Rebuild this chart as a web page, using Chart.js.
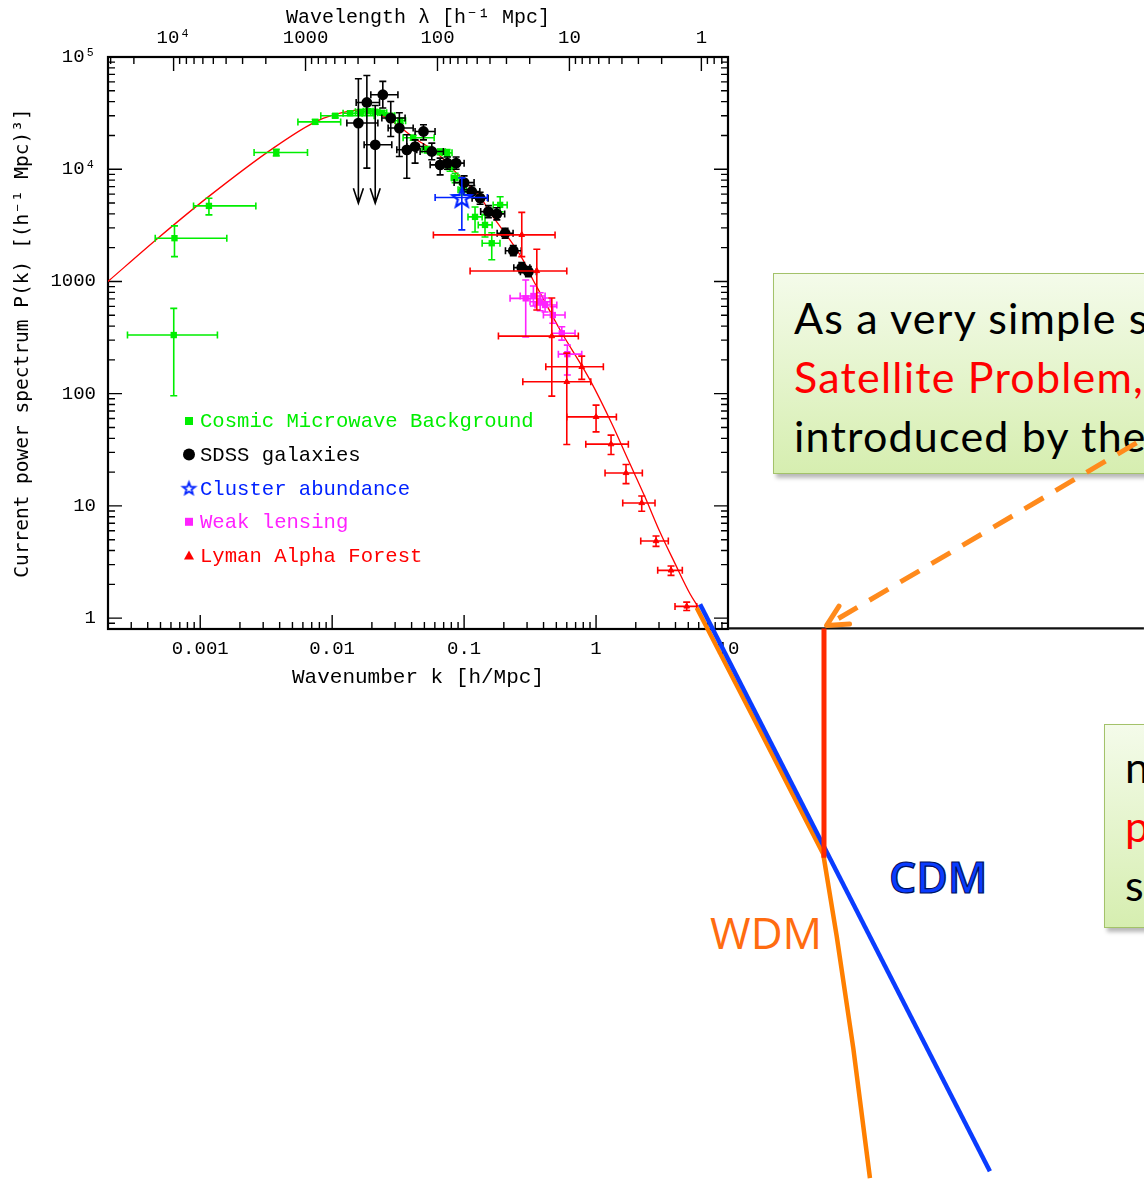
<!DOCTYPE html>
<html>
<head>
<meta charset="utf-8">
<script src="https://cdn.jsdelivr.net/npm/chart.js@4.4.1/dist/chart.umd.min.js"></script>
<style>
body { margin: 0; background: #fff; }
#wrap { position: relative; width: 1144px; height: 1184px; overflow: hidden; }
#c { position: absolute; left: 0; top: 0; }
.box { position: absolute; box-sizing: border-box; border: 1.5px solid #a3c26a;
       background: linear-gradient(#f4fbea, #d6eeb0); box-shadow: 3px 4px 4px rgba(0,0,0,.28);
       font: 43px Lato, sans-serif; letter-spacing: 1.2px; line-height: 59px; white-space: nowrap;
       padding: 14px 0 0 20px; color: #000; }
.red { color: #ff0000; }
#box1 { left: 773px; top: 273px; width: 480px; height: 201px; }
#box2 { left: 1104px; top: 724px; width: 200px; height: 204px; padding-top: 12px; }
.lbl { position: absolute; font-family: 'Open Sans', sans-serif; font-size: 43px; line-height: 1; white-space: nowrap; }
#cdm { left: 889px; top: 855px; color: #0a3cff; font-weight: 600; -webkit-text-stroke: 1.2px #001060; }
#wdm { left: 710px; top: 910px; font-size: 44px; color: #ff6c10; }
</style>
</head>
<body>
<div id="wrap">
  <div class="box" id="box1">As a very simple s<br><span class="red">Satellite Problem,</span><br>introduced by the</div>
  <div class="box" id="box2">n<br><span class="red">p</span><br>s</div>
  <div class="lbl" id="cdm">CDM</div>
  <div class="lbl" id="wdm">WDM</div>
  <canvas id="c" width="1144" height="1184"></canvas>
</div>
<script>
// axis ranges and tick labels
const kMin = 2e-4, kMax = 10;
const pMin = 0.8, pMax = 1e5;
const kTicks = [0.001, 0.01, 0.1, 1, 10];
const kTickLabels = ['0.001', '0.01', '0.1', '1', '10'];
const pTicks = [1, 10, 100, 1000, 1e4, 1e5];
const pTickLabels = ['1', '10', '100', '1000', '10⁴', '10⁵'];
const lamTicks = [1, 10, 100, 1000, 1e4];
const lamTickLabels = ['1', '10', '100', '1000', '10⁴'];

// theory curve
const thK = [2e-4, 4.8e-4, 1.15e-3, 3.6e-3, 7.2e-3, 0.0102, 0.0178, 0.026, 0.0438, 0.0603, 0.0933, 0.132, 0.166, 0.223, 0.280, 0.333, 0.377, 0.534, 0.901, 1.315, 1.757, 2.35, 3.05, 3.97, 5.15, 5.96];
const thP = [1000, 2440, 5670, 15500, 25900, 30500, 33900, 28600, 18300, 14400, 8550, 5670, 3760, 2340, 1550, 1030, 790, 369, 132, 54.2, 25.5, 12.0, 5.85, 3.06, 1.65, 1.25];

// Cosmic Microwave Background
const cmbK = [6.3e-4, 6.38e-4, 1.164e-3, 3.77e-3, 7.43e-3, 0.01054, 0.01368, 0.0163, 0.01875, 0.0212, 0.0239, 0.0275, 0.0328, 0.0411, 0.0525, 0.0658, 0.0743, 0.0783, 0.0855, 0.0966, 0.121, 0.144, 0.162, 0.1875];
const cmbP = [333, 2430, 4710, 14090, 26400, 29950, 31550, 32500, 32850, 32500, 31840, 29950, 27030, 19070, 14900, 14290, 13990, 10500, 8380, 6550, 3760, 3190, 2190, 4810];
const cmbKErr = [[2.81e-4,1.35e-3],[4.56e-4,1.59e-3],[8.9e-4,2.64e-3],[2.56e-3,6.5e-3],[5.5e-3,0.0116],[8.2e-3,0.0208],[0.0121,0.01687],[0.0150,0.0178],[0.0172,0.0204],[0.0196,0.0230],[0.0221,0.0259],[0.0254,0.0298],[0.0300,0.0360],[0.0345,0.0593],[0.0480,0.0575],[0.060,0.072],[0.068,0.081],[0.073,0.084],[0.080,0.092],[0.090,0.104],[0.107,0.137],[0.128,0.163],[0.137,0.187],[0.166,0.212]];
const cmbPErr = [[95.7,576],[1663,3126],[3917,5520],[13160,15040],[25200,27700],[28700,31200],[30300,32900],[31200,33900],[31500,34300],[31200,33900],[30500,33200],[28700,31300],[25600,28500],[18100,20100],[14000,15900],[13500,15100],[13000,15000],[9600,11500],[7600,9200],[5900,7300],[2760,4610],[2490,3920],[1560,2720],[4170,5680]];

// SDSS galaxies
const sdssK = [0.0158, 0.01832, 0.0212, 0.0242, 0.0278, 0.0323, 0.0492, 0.0368, 0.0425, 0.0569, 0.0658, 0.0747, 0.0870, 0.1, 0.1143, 0.1322, 0.1528, 0.177, 0.2046, 0.236, 0.2735, 0.307];
const sdssP = [25780, 39360, 16510, 46100, 28570, 23270, 21680, 14890, 15930, 14380, 10940, 11330, 11330, 7600, 6320, 5520, 4190, 4000, 2690, 1880, 1327, 1222];
const sdssKErr = [[0.01292,0.0222],[0.0152,0.02285],[0.01747,0.0283],[0.01963,0.0315],[0.0238,0.0357],[0.02656,0.0411],[0.0425,0.0602],[0.0309,0.0438],[0.0368,0.0492],[0.0464,0.0697],[0.0553,0.0783],[0.065,0.0859],[0.0757,0.1],[0.084,0.119],[0.0995,0.1315],[0.115,0.152],[0.1335,0.1755],[0.1544,0.203],[0.178,0.235],[0.2058,0.271],[0.238,0.315],[0.267,0.353]];
const sdssPErr = [[4980,64000],[10230,68500],[4980,37000],[35070,60600],[19590,40140],[12970,31840],[18260,24880],[8320,20260],[11330,18260],[12130,17090],[8910,12560],[10000,12840],[10000,12840],[6590,8730],[5590,7150],[4880,6240],[3705,4740],[3540,4530],[2430,2980],[1698,2085],[1197,1470],[1103,1355]];
const sdssLimit = [true, false, true];

// Cluster abundance
const clK = [0.0961];
const clP = [5600];
const clKErr = [[0.0603, 0.150]];
const clPErr = [[2880, 8380]];

// Weak lensing
const wlK = [0.293, 0.335, 0.377, 0.411, 0.470, 0.550, 0.606];
const wlP = [707, 742, 660, 617, 502, 345, 225];
const wlKErr = [[0.223,0.377],[0.266,0.411],[0.316,0.449],[0.345,0.504],[0.399,0.582],[0.462,0.693],[0.518,0.779]];
const wlPErr = [[321,1031],[604,911],[548,794],[534,711],[424,595],[300,395],[146.5,271]];

// Lyman Alpha Forest
const lyaK = [0.2735, 0.3556, 0.462, 0.600, 0.779, 1.0, 1.299, 1.687, 2.219, 2.848, 3.70, 4.864];
const lyaP = [2600, 1240, 326, 127.6, 173.5, 62.1, 35.5, 19.67, 10.62, 4.865, 2.665, 1.272];
const lyaKErr = [[0.0585,0.489],[0.111,0.600],[0.182,0.734],[0.2785,0.912],[0.416,1.136],[0.600,1.426],[0.836,1.757],[1.17,2.243],[1.593,2.798],[2.181,3.529],[2.932,4.506],[3.966,5.79]];
const lyaPErr = [[1663,4125],[556,1937],[95.1,712],[35.3,230],[134,216],[45.7,79.1],[28.7,42.7],[15.8,23.4],[8.96,12.27],[4.36,5.39],[2.404,2.91],[1.171,1.389]];

// slide annotations (extrapolated beyond the frame); listed from the far end so
// that every point is kept when drawn outside the axis range
const cdmK = [966, 6.14];
const cdmP = [1.18e-5, 1.33];
const wdmK = [119.1, 89.0, 66.6, 52.7, 17.48, 5.79];
const wdmP = [1.023e-5, 1.479e-4, 1.475e-3, 0.0079, 0.0996, 1.236];
const cutK = [53.4, 53.4];
const cutP = [0.81, 0.00732];
const extK = [14200, 10];
const extP = [0.81, 0.81];
const arrK = [12480, 55.9];
const arrP = [36.4, 0.861];

const GREEN = '#00ee00', BLUE = '#0022ff', MAGENTA = '#ff22ff', RED = '#ff0000';

const pts = (ks, ps) => ks.map((k, i) => ({ x: k, y: ps[i] }));

function starCanvas(r, color, lw) {
    const s = Math.ceil(2 * r + 2 * lw + 2);
    const c = document.createElement('canvas');
    c.width = c.height = s;
    const g = c.getContext('2d');
    g.strokeStyle = color; g.lineWidth = lw; g.lineJoin = 'miter';
    g.beginPath();
    for (let i = 0; i < 10; i++) {
        const a = -Math.PI / 2 + i * Math.PI / 5;
        const rr = i % 2 ? r * 0.42 : r;
        g.lineTo(s / 2 + rr * Math.cos(a), s / 2 + rr * Math.sin(a) + r * 0.08);
    }
    g.closePath(); g.stroke();
    return c;
}
const bigStar = starCanvas(10, BLUE, 2.2);
const smallStar = starCanvas(6.5, BLUE, 1.8);

/**
 * PLUGINS
 */
const frame = {
    id: 'frame',
    beforeDatasetsDraw(chart) {
        const { ctx, chartArea: a, scales } = chart;
        ctx.save();
        ctx.strokeStyle = '#000';
        ctx.lineWidth = 1.4;
        const eachTick = (min, max, fn) => {
            for (let e = Math.floor(Math.log10(min)); e <= Math.ceil(Math.log10(max)); e++) {
                for (let m = 1; m < 10; m++) {
                    const v = m * Math.pow(10, e);
                    if (v > min * 1.0001 && v < max * 0.9999) fn(v, m === 1 ? 14 : 7);
                }
            }
        };
        ctx.beginPath();
        eachTick(kMin, kMax, (v, len) => {
            const px = scales.x.getPixelForValue(v);
            ctx.moveTo(px, a.bottom); ctx.lineTo(px, a.bottom - len);
        });
        eachTick(2 * Math.PI / kMax, 2 * Math.PI / kMin, (v, len) => {
            const px = scales.x2.getPixelForValue(v);
            ctx.moveTo(px, a.top); ctx.lineTo(px, a.top + len);
        });
        eachTick(pMin, pMax, (v, len) => {
            const py = scales.y.getPixelForValue(v);
            ctx.moveTo(a.left, py); ctx.lineTo(a.left + len, py);
            ctx.moveTo(a.right, py); ctx.lineTo(a.right - len, py);
        });
        ctx.stroke();
        ctx.lineWidth = 2.2;
        ctx.strokeRect(a.left, a.top, a.right - a.left, a.bottom - a.top);
        ctx.restore();
    }
};

const errorBars = {
    id: 'errorBars',
    beforeDatasetDraw(chart, args) {
        const ds = chart.data.datasets[args.index];
        if (!ds.errK) return;
        const { ctx, scales: { x, y } } = chart;
        const cap = 3.5;
        ctx.save();
        ctx.strokeStyle = ds.borderColor;
        ctx.lineWidth = 1.6;
        ds.data.forEach((p, i) => {
            const px = x.getPixelForValue(p.x), py = y.getPixelForValue(p.y);
            const xl = x.getPixelForValue(ds.errK[i][0]), xr = x.getPixelForValue(ds.errK[i][1]);
            const yb = y.getPixelForValue(ds.errP[i][0]), yt = y.getPixelForValue(ds.errP[i][1]);
            ctx.beginPath();
            ctx.moveTo(xl, py); ctx.lineTo(xr, py);
            ctx.moveTo(xl, py - cap); ctx.lineTo(xl, py + cap);
            ctx.moveTo(xr, py - cap); ctx.lineTo(xr, py + cap);
            ctx.moveTo(px, yt); ctx.lineTo(px, yb);
            ctx.moveTo(px - cap, yt); ctx.lineTo(px + cap, yt);
            if (ds.limit && ds.limit[i]) {
                ctx.moveTo(px - 5, yb - 15); ctx.lineTo(px, yb); ctx.lineTo(px + 5, yb - 15);
            } else {
                ctx.moveTo(px - cap, yb); ctx.lineTo(px + cap, yb);
            }
            ctx.stroke();
        });
        ctx.restore();
    }
};

const arrowHead = {
    id: 'arrowHead',
    afterDatasetsDraw(chart) {
        const { ctx } = chart;
        chart.data.datasets.forEach((ds, i) => {
            if (!ds.arrowHead) return;
            const el = chart.getDatasetMeta(i).data;
            const a = el[el.length - 2], b = el[el.length - 1];
            const ang = Math.atan2(a.y - b.y, a.x - b.x);
            ctx.save();
            ctx.strokeStyle = ds.borderColor; ctx.lineWidth = ds.borderWidth;
            ctx.lineCap = 'round'; ctx.lineJoin = 'round';
            ctx.beginPath();
            ctx.moveTo(b.x + 23 * Math.cos(ang - 0.47), b.y + 23 * Math.sin(ang - 0.47));
            ctx.lineTo(b.x, b.y);
            ctx.lineTo(b.x + 23 * Math.cos(ang + 0.47), b.y + 23 * Math.sin(ang + 0.47));
            ctx.stroke();
            ctx.restore();
        });
    }
};

const insideLegend = {
    id: 'insideLegend',
    afterDatasetsDraw(chart, args, opts) {
        const { ctx } = chart;
        const items = chart.data.datasets.filter(d => d.legendRank !== undefined)
            .sort((a, b) => a.legendRank - b.legendRank);
        ctx.save();
        ctx.font = opts.font;
        ctx.textBaseline = 'middle';
        items.forEach((d, i) => {
            const y = opts.y + i * opts.step, x = opts.x;
            ctx.fillStyle = d.borderColor;
            ctx.beginPath();
            if (d.legendMarker === 'square') ctx.rect(x - 4, y - 4, 8, 8);
            else if (d.legendMarker === 'circle') ctx.arc(x, y, 6, 0, Math.PI * 2);
            else if (d.legendMarker === 'triangle') { ctx.moveTo(x, y - 5); ctx.lineTo(x + 5, y + 4); ctx.lineTo(x - 5, y + 4); ctx.closePath(); }
            ctx.fill();
            if (d.legendMarker === 'star') ctx.drawImage(smallStar, x - smallStar.width / 2, y - smallStar.height / 2);
            ctx.fillText(d.label, x + 11, y + 1);
        });
        ctx.restore();
    }
};

/**
 * CHART
 */
Chart.defaults.font.family = "'Liberation Mono', monospace";
Chart.defaults.color = '#000';

const tickFont = { family: "'Liberation Mono', monospace", size: 19 };
const titleFont = { family: "'Liberation Mono', monospace", size: 21 };

const lineSet = (label, ks, ps, color, width, extra) => Object.assign({
    label, data: pts(ks, ps), showLine: true, borderColor: color, backgroundColor: color,
    borderWidth: width, pointRadius: 0, clip: false
}, extra || {});

new Chart(document.getElementById('c'), {
    type: 'scatter',
    data: {
        datasets: [
            lineSet('cutoff', cutK, cutP, '#ff2a00', 5),
            lineSet('CDM', cdmK, cdmP, '#0a3cff', 4.5),
            lineSet('WDM', wdmK, wdmP, '#ff7f00', 4.5),
            lineSet('axis', extK, extP, '#111', 2.4),
            lineSet('arrow', arrK, arrP, '#ff8a1c', 5, { borderDash: [22, 14], arrowHead: true }),
            {
                label: 'Lyman Alpha Forest', data: pts(lyaK, lyaP), errK: lyaKErr, errP: lyaPErr,
                pointStyle: 'triangle', pointRadius: 3.3, borderColor: RED, backgroundColor: RED, borderWidth: 1,
                legendRank: 4, legendMarker: 'triangle'
            },
            {
                label: 'Weak lensing', data: pts(wlK, wlP), errK: wlKErr, errP: wlPErr,
                pointStyle: 'rect', pointRadius: 4.5, borderColor: MAGENTA, backgroundColor: MAGENTA, borderWidth: 0,
                legendRank: 3, legendMarker: 'square'
            },
            {
                label: 'Cluster abundance', data: pts(clK, clP), errK: clKErr, errP: clPErr,
                pointStyle: bigStar, pointRadius: 10, borderColor: BLUE, backgroundColor: BLUE,
                legendRank: 2, legendMarker: 'star'
            },
            {
                label: 'SDSS galaxies', data: pts(sdssK, sdssP), errK: sdssKErr, errP: sdssPErr, limit: sdssLimit,
                pointStyle: 'circle', pointRadius: 5.4, borderColor: '#000', backgroundColor: '#000', borderWidth: 0,
                legendRank: 1, legendMarker: 'circle'
            },
            {
                label: 'Cosmic Microwave Background', data: pts(cmbK, cmbP), errK: cmbKErr, errP: cmbPErr,
                pointStyle: 'rect', pointRadius: 4.5, borderColor: GREEN, backgroundColor: GREEN, borderWidth: 0,
                legendRank: 0, legendMarker: 'square'
            },
            {
                label: 'theory', data: pts(thK, thP), showLine: true, borderColor: RED, borderWidth: 1.3,
                pointRadius: 0, cubicInterpolationMode: 'monotone'
            }
        ]
    },
    options: {
        responsive: false,
        animation: false,
        devicePixelRatio: 1,
        layout: { padding: { left: 0, top: 0, right: 416, bottom: 493 } },
        plugins: {
            legend: { display: false },
            tooltip: { enabled: false },
            insideLegend: { x: 189, y: 421, step: 33.6, font: "20.6px 'Liberation Mono', monospace" }
        },
        scales: {
            x: {
                type: 'logarithmic', position: 'bottom', min: kMin, max: kMax, bounds: 'data',
                afterFit: s => { s.height = 62; },
                afterBuildTicks: s => { s.ticks = kTicks.map(v => ({ value: v })); },
                ticks: { callback: (v, i) => kTickLabels[i], font: tickFont, color: '#000', padding: 9, autoSkip: false, maxRotation: 0 },
                grid: { display: false, drawTicks: false }, border: { display: false },
                title: { display: true, text: 'Wavenumber k [h/Mpc]', font: titleFont, color: '#000', padding: { top: 0, bottom: 1 } }
            },
            x2: {
                type: 'logarithmic', position: 'top', reverse: true, min: 2 * Math.PI / kMax, max: 2 * Math.PI / kMin, bounds: 'data',
                afterFit: s => { s.height = 57; },
                afterBuildTicks: s => { s.ticks = lamTicks.map(v => ({ value: v })); },
                ticks: { callback: (v, i) => lamTickLabels[i], font: tickFont, color: '#000', padding: 8, autoSkip: false, maxRotation: 0 },
                grid: { display: false, drawTicks: false }, border: { display: false },
                title: { display: true, text: 'Wavelength λ [h⁻¹ Mpc]', font: { family: "'Liberation Mono', monospace", size: 20 },
                         color: '#000', padding: { top: 6, bottom: 0 } }
            },
            y: {
                type: 'logarithmic', position: 'left', min: pMin, max: pMax, bounds: 'data',
                afterFit: s => { s.width = 108; },
                afterBuildTicks: s => { s.ticks = pTicks.map(v => ({ value: v })); },
                ticks: { callback: (v, i) => pTickLabels[i], font: tickFont, color: '#000', padding: 12, autoSkip: false },
                grid: { display: false, drawTicks: false }, border: { display: false },
                title: { display: true, text: 'Current power spectrum P(k) [(h⁻¹ Mpc)³]',
                         font: { family: "'DejaVu Sans Mono', monospace", size: 19.5 }, color: '#000', padding: { top: 11, bottom: 0 } }
            }
        }
    },
    plugins: [frame, errorBars, arrowHead, insideLegend]
});
</script>
</body>
</html>
